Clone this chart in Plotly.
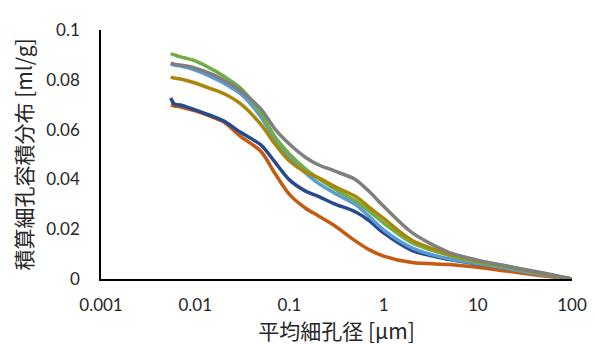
import plotly.graph_objects as go

# pore diameter [um]
diameter = [0.0055, 0.006, 0.007, 0.01, 0.015, 0.02, 0.03, 0.05, 0.07, 0.1, 0.15, 0.2,
            0.3, 0.5, 0.7, 1, 2, 5, 10, 20, 50, 100]

orange = [0.0699, 0.0695, 0.0691, 0.0675, 0.0651, 0.0631, 0.0574, 0.0512, 0.0425, 0.0340,
          0.0283, 0.0255, 0.0215, 0.0153, 0.0118, 0.0092, 0.0066, 0.0058, 0.0047, 0.0032,
          0.0012, 0.0]
dark_blue = [0.0727, 0.0703, 0.0699, 0.0679, 0.0655, 0.0635, 0.0590, 0.0538, 0.0470, 0.0398,
             0.0352, 0.0333, 0.0302, 0.0270, 0.0235, 0.0185, 0.0115, 0.0078, 0.0060, 0.0044,
             0.0020, 0.0]
light_blue = [0.0863, 0.0859, 0.0855, 0.0839, 0.0811, 0.0787, 0.0745, 0.0650, 0.0560, 0.0486,
              0.0424, 0.0386, 0.0345, 0.0300, 0.0252, 0.0197, 0.0125, 0.0080, 0.0062, 0.0043,
              0.0016, 0.0]
green = [0.0904, 0.0900, 0.0892, 0.0876, 0.0843, 0.0815, 0.0768, 0.0665, 0.0572, 0.0502,
         0.0440, 0.0405, 0.0362, 0.0314, 0.0273, 0.0225, 0.0146, 0.0094, 0.0067, 0.0048,
         0.0020, 0.0]
gold = [0.0811, 0.0807, 0.0803, 0.0787, 0.0763, 0.0745, 0.0705, 0.0620, 0.0543, 0.0474,
        0.0428, 0.0408, 0.0372, 0.0332, 0.0289, 0.0243, 0.0156, 0.0100, 0.0072, 0.0052,
        0.0020, 0.0]
gray = [0.0867, 0.0863, 0.0859, 0.0847, 0.0823, 0.0799, 0.0757, 0.0682, 0.0603, 0.0542,
        0.0487, 0.0460, 0.0434, 0.0400, 0.0352, 0.0292, 0.0186, 0.0106, 0.0076, 0.0052,
        0.0024, 0.0]

series = [
    ("orange", orange, "#C55A11"),
    ("dark_blue", dark_blue, "#264A8C"),
    ("light_blue", light_blue, "#5B9BD5"),
    ("green", green, "#70AD47"),
    ("gold", gold, "#A8880A"),
    ("gray", gray, "#7F7F7F"),
]

x_ticks = [0.001, 0.01, 0.1, 1, 10, 100]
x_tick_text = ["0.001", "0.01", "0.1", "1", "10", "100"]
y_ticks = [0, 0.02, 0.04, 0.06, 0.08, 0.1]
y_tick_text = ["0", "0.02", "0.04", "0.06", "0.08", "0.1"]

fig = go.Figure()
for name, vals, color in series:
    fig.add_trace(go.Scatter(x=diameter, y=vals, mode="lines", name=name,
                             line=dict(color=color, width=3.5, shape="spline", smoothing=0.8)))

font_family = "Lato, 'Noto Sans CJK JP', sans-serif"
title_font = dict(family="'Noto Sans CJK JP', sans-serif", size=21, color="#262626")
# the page body has an 8px default margin, so the figure is sized to fit inside it
fig.update_layout(
    width=587, height=337,
    margin=dict(l=93, r=23, t=22, b=66),
    paper_bgcolor="white", plot_bgcolor="white",
    showlegend=False,
    font=dict(family=font_family, size=17, color="#262626"),
    xaxis=dict(type="log", range=[-3, 2], tickvals=x_ticks, ticktext=x_tick_text,
               showgrid=False, zeroline=False, showline=True, linecolor="black", linewidth=1.5,
               ticks="", ticklabelstandoff=10, automargin=False,
               title=dict(text="平均細孔径 [µm]", font=title_font, standoff=5)),
    yaxis=dict(range=[0, 0.1], tickvals=y_ticks, ticktext=y_tick_text,
               showgrid=False, zeroline=False, showline=True, linecolor="black", linewidth=1.5,
               ticks="", ticklabelstandoff=16, automargin=False,
               title=dict(text="積算細孔容積分布 [ml/g]", font=title_font, standoff=8)),
)

fig.write_html("out.html")
